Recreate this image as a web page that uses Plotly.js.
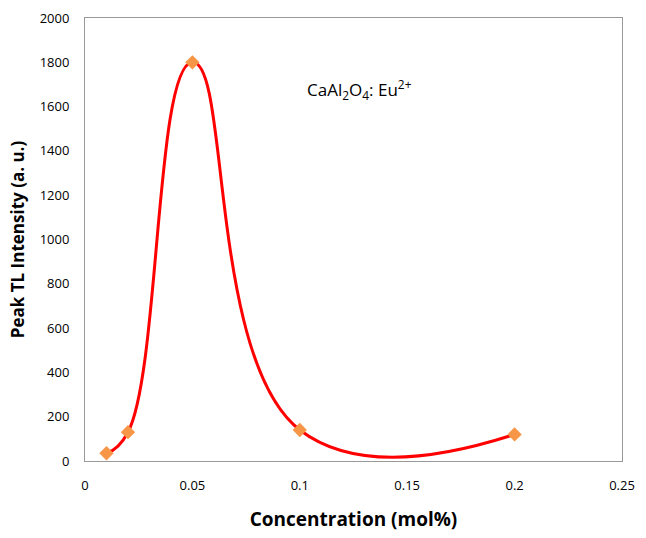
<!DOCTYPE html>
<html><head><meta charset="utf-8">
<script src="https://cdn.plot.ly/plotly-3.0.1.min.js"></script>
<style>html,body{margin:0;padding:0;background:#fff}#chart{width:646px;height:538px}</style>
</head><body><div id="chart"></div>
<script>
const concentration = [0.01, 0.02, 0.05, 0.1, 0.2];
const intensity = [35, 130, 1800, 140, 120];
const xTicks = [0, 0.05, 0.1, 0.15, 0.2, 0.25];
const xTickText = ['0', '0.05', '0.1', '0.15', '0.2', '0.25'];
const yTicks = [0, 200, 400, 600, 800, 1000, 1200, 1400, 1600, 1800, 2000];

const traces = [
  {x: concentration, y: intensity, mode: 'lines', line: {color: '#FF0000', width: 3, shape: 'spline', smoothing: 1.3}, hoverinfo: 'skip', showlegend: false},
  {x: concentration, y: intensity, mode: 'markers', marker: {symbol: 'diamond', size: 11, color: '#F79646'}, showlegend: false}
];
const font = "Open Sans, Noto Sans, sans-serif";
const layout = {
  width: 646, height: 538,
  margin: {l: 85, r: 24, t: 18, b: 77},
  paper_bgcolor: '#fff', plot_bgcolor: '#fff',
  font: {family: font, size: 13, color: '#000'},
  xaxis: {range: [0, 0.25], tickvals: xTicks, ticktext: xTickText, showgrid: false, zeroline: false,
    showline: true, mirror: true, linecolor: '#999', linewidth: 1, ticks: '', ticklabelstandoff: 12,
    tickfont: {size: 13}, title: {text: '<b>Concentration (mol%)</b>', font: {size: 19}, standoff: 20}},
  yaxis: {range: [0, 2000], tickvals: yTicks, showgrid: false, zeroline: false,
    showline: true, mirror: true, linecolor: '#999', linewidth: 1, ticks: '', ticklabelstandoff: 12,
    tickfont: {size: 13}, title: {text: '<b>Peak TL Intensity (a. u.)</b>', font: {size: 17}, standoff: 10}},
  annotations: [{x: 0.128, y: 1675, xref: 'x', yref: 'y', showarrow: false,
    text: 'CaAl<sub>2</sub>O<sub>4</sub>: Eu<sup>2+</sup>', font: {size: 17}}]
};
Plotly.newPlot('chart', traces, layout, {displayModeBar: false, staticPlot: true});
</script></body></html>
